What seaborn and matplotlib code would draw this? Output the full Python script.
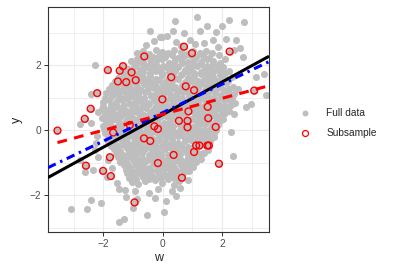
import numpy as np
import pandas as pd
import matplotlib.pyplot as plt
import seaborn as sns
from matplotlib.lines import Line2D

# full data cloud (top to bottom)
full_w = [
    0.43, 1.15, 2.25, 2.76,
    -0.42, -0.02, 0.36, 0.71, 1.26, 1.49, 1.80, 1.99, 2.14, 2.48,
    -0.55, -0.28, -0.09, 0.14, 0.45, 0.62, 0.92, 1.10, 1.40, 1.71, 1.88, 2.42, 2.61,
    -0.88, -0.66, -0.45, -0.24, -0.03, 0.19, 0.40, 0.61, 0.83, 1.04, 1.25, 1.47, 1.68, 1.90, 2.70,
    -1.08, -0.87, -0.65, -0.44, -0.22, -0.01, 0.21, 0.42, 0.64, 0.85, 1.06, 1.28, 1.49, 1.71, 1.92, 2.12,
    -2.30, -1.18, -0.97, -0.75, -0.54, -0.32, -0.11, 0.10, 0.32, 0.53, 0.75, 0.96, 1.17, 1.39, 1.60, 1.82, 2.03, 2.25,
    -1.52, -1.30, -1.09, -0.87, -0.66, -0.44, -0.23, -0.01, 0.20, 0.42, 0.63, 0.85, 1.06, 1.28, 1.49, 1.71, 1.92, 2.14, 2.35, 3.15, 3.42,
    -1.72, -1.50, -1.29, -1.07, -0.86, -0.64, -0.43, -0.21, 0.00, 0.22, 0.43, 0.65, 0.86, 1.08, 1.29, 1.51, 1.72, 1.94, 2.15, 2.37, 2.53,
    -2.41, -1.90, -1.68, -1.47, -1.25, -1.04, -0.82, -0.61, -0.39, -0.18, 0.04, 0.25, 0.47, 0.68, 0.90, 1.11, 1.33, 1.54, 1.76, 1.97, 2.19, 2.40, 3.49,
    -2.02, -1.80, -1.59, -1.37, -1.16, -0.94, -0.73, -0.51, -0.30, -0.08, 0.13, 0.35, 0.56, 0.78, 0.99, 1.21, 1.42, 1.64, 1.85, 2.07, 2.28, 2.45, 2.98,
    -2.19, -2.06, -1.85, -1.63, -1.42, -1.20, -0.99, -0.77, -0.56, -0.34, -0.13, 0.09, 0.30, 0.52, 0.73, 0.95, 1.16, 1.38, 1.59, 1.81, 2.02, 2.24, 2.81,
    -2.04, -1.82, -1.61, -1.39, -1.18, -0.96, -0.75, -0.53, -0.32, -0.10, 0.11, 0.33, 0.54, 0.76, 0.97, 1.19, 1.40, 1.62, 1.83, 2.05, 2.42,
    -2.80, -2.41, -2.00, -1.79, -1.57, -1.36, -1.14, -0.93, -0.71, -0.50, -0.28, -0.07, 0.15, 0.36, 0.58, 0.79, 1.01, 1.22, 1.44, 1.65, 1.87,
    -1.93, -1.72, -1.50, -1.29, -1.07, -0.86, -0.64, -0.43, -0.21, 0.00, 0.22, 0.43, 0.65, 0.86, 1.08, 1.29, 1.51, 1.72, 2.31,
    -2.26, -1.84, -1.63, -1.41, -1.20, -0.98, -0.77, -0.55, -0.34, -0.12, 0.09, 0.31, 0.52, 0.74, 0.95, 1.17, 1.38, 1.60,
    -2.30, -1.65, -1.44, -1.22, -1.01, -0.79, -0.58, -0.36, -0.15, 0.07, 0.28, 0.50, 0.71, 0.93, 1.14, 1.35, 1.52,
    -2.19, -1.85, -1.52, -1.30, -1.09, -0.87, -0.66, -0.44, -0.23, -0.01, 0.20, 0.42, 0.63, 0.85, 1.06, 1.28, 2.36,
    -2.35, -1.70, -1.32, -1.10, -0.89, -0.67, -0.46, -0.24, -0.03, 0.19, 0.40, 0.62, 0.83, 1.02,
    -2.62, -1.88, -1.22, -1.00, -0.79, -0.57, -0.36, -0.14, 0.07, 0.29, 0.50, 0.72,
    -1.55, -1.05, -0.82, -0.60, -0.25, -0.02, 0.37, 0.55, 0.85,
    -1.47, -1.26, -0.95, -0.47, -0.15, 0.30, 0.58,
    -2.41, -2.07, -1.25, -0.85, -0.25, 0.12, 0.45,
    -3.09, -2.55, -0.53, 0.03, -1.00,
    -1.49, -1.32,
    -2.23, -2.79,
]
full_y = [
    3.36, 3.48, 3.38, 3.33,
    3.06, 2.87, 3.04, 2.99, 3.04, 3.21, 3.02, 3.20, 2.82, 2.78,
    2.62, 2.74, 2.86, 2.90, 2.70, 2.58, 2.78, 2.66, 2.68, 2.78, 2.57, 2.46, 2.52,
    2.38, 2.44, 2.35, 2.47, 2.40, 2.36, 2.48, 2.41, 2.34, 2.45, 2.38, 2.43, 2.36, 2.30, 2.25,
    2.12, 2.18, 2.10, 2.20, 2.13, 2.19, 2.08, 2.16, 2.21, 2.11, 2.17, 2.09, 2.19, 2.14, 2.06, 2.18,
    2.00, 1.88, 1.94, 1.86, 1.95, 1.89, 1.84, 1.93, 1.87, 1.96, 1.85, 1.91, 1.97, 1.86, 1.92, 1.88, 1.95, 1.83,
    1.62, 1.68, 1.60, 1.70, 1.63, 1.67, 1.59, 1.71, 1.64, 1.61, 1.69, 1.62, 1.66, 1.72, 1.60, 1.65, 1.70, 1.58, 1.64, 1.64, 1.74,
    1.38, 1.42, 1.35, 1.44, 1.37, 1.41, 1.46, 1.36, 1.40, 1.43, 1.34, 1.39, 1.45, 1.38, 1.42, 1.35, 1.41, 1.37, 1.44, 1.33, 1.28,
    1.11, 1.13, 1.18, 1.10, 1.16, 1.20, 1.12, 1.17, 1.09, 1.15, 1.19, 1.11, 1.14, 1.18, 1.10, 1.16, 1.12, 1.19, 1.13, 1.09, 1.17, 1.12, 1.08,
    0.88, 0.93, 0.86, 0.92, 0.95, 0.87, 0.91, 0.85, 0.94, 0.89, 0.92, 0.86, 0.95, 0.88, 0.91, 0.87, 0.93, 0.89, 0.86, 0.94, 0.90, 0.84, 0.82,
    0.56, 0.66, 0.61, 0.68, 0.63, 0.60, 0.67, 0.62, 0.69, 0.61, 0.65, 0.59, 0.66, 0.63, 0.68, 0.60, 0.64, 0.67, 0.61, 0.65, 0.62, 0.58, 0.72,
    0.38, 0.42, 0.36, 0.43, 0.39, 0.35, 0.41, 0.44, 0.37, 0.40, 0.43, 0.36, 0.42, 0.38, 0.34, 0.41, 0.37, 0.43, 0.39, 0.35, 0.51,
    0.19, 0.22, 0.13, 0.17, 0.11, 0.16, 0.19, 0.12, 0.15, 0.18, 0.10, 0.14, 0.17, 0.12, 0.16, 0.19, 0.11, 0.15, 0.18, 0.13, 0.16,
    -0.08, -0.12, -0.06, -0.11, -0.14, -0.07, -0.10, -0.13, -0.05, -0.09, -0.12, -0.08, -0.14, -0.06, -0.11, -0.09, -0.13, -0.07, -0.04,
    -0.40, -0.33, -0.37, -0.31, -0.36, -0.39, -0.32, -0.35, -0.38, -0.30, -0.36, -0.33, -0.39, -0.34, -0.31, -0.37, -0.35, -0.32,
    -0.62, -0.58, -0.63, -0.56, -0.61, -0.64, -0.57, -0.60, -0.65, -0.59, -0.55, -0.62, -0.58, -0.63, -0.57, -0.71, -0.60,
    -0.81, -0.92, -0.83, -0.88, -0.82, -0.86, -0.90, -0.84, -0.81, -0.89, -0.85, -0.83, -0.91, -0.86, -0.82, -0.88, -0.78,
    -1.22, -1.15, -1.08, -1.13, -1.06, -1.11, -1.15, -1.07, -1.12, -1.09, -1.14, -1.06, -1.10, -1.13,
    -1.30, -1.45, -1.33, -1.38, -1.31, -1.36, -1.40, -1.32, -1.37, -1.34, -1.39, -1.30,
    -1.62, -1.58, -1.65, -1.56, -1.48, -1.63, -1.68, -1.55, -1.52,
    -1.80, -1.84, -1.88, -1.94, -1.82, -1.86, -1.78,
    -2.14, -2.23, -2.05, -2.12, -2.09, -2.18, -2.02,
    -2.43, -2.43, -2.61, -2.53, -2.40,
    -2.81, -2.74,
    -0.19, -0.91,
]

# the dense middle of the cloud, read between the bands above
inner_w = [
    -0.75, -0.53, -0.33, -0.12, 0.09, 0.30, 0.51, 0.72, 0.93, 1.14, 1.36, 1.57,
    -0.86, -0.64, -0.43, -0.21, 0.00, 0.21, 0.43, 0.64, 0.86, 1.07, 1.28, 1.50, 1.71, 1.93,
    -1.30, -1.08, -0.87, -0.65, -0.44, -0.22, -0.01, 0.21, 0.42, 0.64, 0.85, 1.07, 1.28, 1.50, 1.71, 1.93, 2.10,
    -1.62, -1.40, -1.19, -0.97, -0.76, -0.54, -0.33, -0.11, 0.10, 0.32, 0.53, 0.75, 0.96, 1.18, 1.39, 1.61, 1.82, 2.04, 2.22,
    -1.80, -1.58, -1.37, -1.15, -0.94, -0.72, -0.51, -0.29, -0.08, 0.14, 0.35, 0.57, 0.78, 1.00, 1.21, 1.43, 1.64, 1.86, 2.07, 2.25,
    -1.95, -1.70, -1.48, -1.27, -1.05, -0.84, -0.62, -0.41, -0.19, 0.02, 0.24, 0.45, 0.67, 0.88, 1.10, 1.31, 1.53, 1.74, 1.96, 2.17, 2.33,
    -2.00, -1.75, -1.53, -1.32, -1.10, -0.89, -0.67, -0.46, -0.24, -0.03, 0.19, 0.40, 0.62, 0.83, 1.05, 1.26, 1.48, 1.69, 1.91, 2.12, 2.30,
    -1.95, -1.72, -1.50, -1.29, -1.07, -0.86, -0.64, -0.43, -0.21, 0.00, 0.22, 0.43, 0.65, 0.86, 1.08, 1.29, 1.51, 1.72, 1.94, 2.12,
    -1.92, -1.70, -1.47, -1.25, -1.04, -0.82, -0.61, -0.39, -0.18, 0.04, 0.25, 0.47, 0.68, 0.90, 1.11, 1.33, 1.54, 1.76, 1.97,
    -1.97, -1.83, -1.61, -1.40, -1.18, -0.97, -0.75, -0.54, -0.32, -0.11, 0.11, 0.32, 0.54, 0.75, 0.97, 1.18, 1.40, 1.61, 1.80,
    -1.85, -1.62, -1.40, -1.19, -0.97, -0.76, -0.54, -0.33, -0.11, 0.10, 0.32, 0.53, 0.75, 0.96, 1.18, 1.39, 1.60, 1.75,
    -1.75, -1.52, -1.31, -1.09, -0.88, -0.66, -0.45, -0.23, -0.02, 0.20, 0.41, 0.63, 0.84, 1.06, 1.27, 1.45,
    -1.58, -1.33, -1.12, -0.90, -0.69, -0.47, -0.26, -0.04, 0.17, 0.39, 0.60, 0.82, 1.03, 1.25, 1.40,
    -1.45, -1.20, -0.98, -0.77, -0.55, -0.34, -0.12, 0.09, 0.31, 0.52, 0.74, 0.95, 1.12,
    -1.25, -1.04, -0.82, -0.61, -0.39, -0.18, 0.04, 0.25, 0.47, 0.68, 0.88,
    -1.12, -0.90, -0.68, -0.47, -0.25, -0.04, 0.18, 0.40, 0.65,
]
inner_y = [
    2.27, 2.31, 2.24, 2.29, 2.26, 2.32, 2.23, 2.28, 2.30, 2.25, 2.29, 2.22,
    2.03, 1.99, 2.05, 2.01, 1.98, 2.04, 2.00, 2.06, 1.97, 2.02, 2.05, 1.99, 2.03, 2.00,
    1.76, 1.80, 1.74, 1.79, 1.77, 1.81, 1.75, 1.78, 1.82, 1.74, 1.79, 1.76, 1.80, 1.73, 1.78, 1.81, 1.75,
    1.50, 1.54, 1.49, 1.53, 1.56, 1.51, 1.48, 1.55, 1.52, 1.50, 1.57, 1.49, 1.53, 1.51, 1.55, 1.48, 1.52, 1.54, 1.50,
    1.26, 1.29, 1.24, 1.30, 1.27, 1.23, 1.28, 1.31, 1.25, 1.27, 1.30, 1.24, 1.28, 1.26, 1.31, 1.23, 1.27, 1.29, 1.25, 1.28,
    1.00, 1.04, 1.01, 0.98, 1.05, 1.02, 0.99, 1.04, 1.01, 1.06, 0.98, 1.03, 1.00, 1.05, 0.99, 1.02, 1.04, 0.98, 1.03, 1.01, 0.99,
    0.76, 0.79, 0.74, 0.78, 0.81, 0.75, 0.77, 0.80, 0.73, 0.78, 0.76, 0.81, 0.74, 0.79, 0.77, 0.75, 0.80, 0.76, 0.78, 0.74, 0.77,
    0.51, 0.54, 0.49, 0.53, 0.50, 0.55, 0.48, 0.52, 0.54, 0.50, 0.47, 0.53, 0.51, 0.55, 0.49, 0.52, 0.50, 0.54, 0.48, 0.52,
    0.27, 0.30, 0.25, 0.28, 0.24, 0.29, 0.26, 0.31, 0.27, 0.23, 0.28, 0.30, 0.25, 0.27, 0.29, 0.24, 0.28, 0.26, 0.30,
    0.03, -0.01, 0.04, 0.00, 0.05, 0.01, -0.02, 0.03, 0.06, 0.00, 0.02, 0.05, -0.01, 0.03, 0.04, 0.00, 0.02, 0.05, 0.01,
    -0.22, -0.20, -0.25, -0.21, -0.24, -0.19, -0.23, -0.26, -0.20, -0.22, -0.25, -0.19, -0.23, -0.21, -0.26, -0.20, -0.24, -0.22,
    -0.47, -0.50, -0.45, -0.49, -0.46, -0.51, -0.44, -0.48, -0.50, -0.46, -0.49, -0.45, -0.51, -0.47, -0.44, -0.49,
    -0.72, -0.75, -0.70, -0.74, -0.71, -0.76, -0.69, -0.73, -0.75, -0.70, -0.74, -0.71, -0.76, -0.72, -0.70,
    -0.97, -1.00, -0.95, -0.99, -0.96, -1.01, -0.94, -0.98, -1.00, -0.95, -0.99, -0.96, -0.98,
    -1.22, -1.25, -1.20, -1.24, -1.21, -1.26, -1.19, -1.23, -1.25, -1.20, -1.24,
    -1.47, -1.50, -1.45, -1.49, -1.52, -1.46, -1.50, -1.48, -1.45,
]

# subsample (red open circles)
sub_w = [-3.55, -2.59, -2.63, -2.43, -2.21, -2.01, -1.85, -1.78, -1.75, -1.67,
         -1.51, -1.45, -1.34, -1.23, -1.11, -1.05, -0.91, -0.95, -0.62, -0.63,
         -0.42, -0.28, -0.16, -0.16, -0.01, 0.29, 0.37, 0.55, 0.65, 0.72,
         0.78, 0.84, 0.87, 0.84, 0.99, 1.06, 1.06, 1.13, 1.24, 1.52,
         1.54, 1.51, 1.56, 1.79, 1.90, 2.26, 3.09]
sub_y = [-0.01, -1.09, 0.35, 0.66, 1.14, -1.25, 1.85, -0.83, -1.41, -0.07,
         1.50, 1.83, 1.97, 1.48, 0.16, 1.78, 1.54, -2.22, 2.27, -0.25,
         -0.33, 0.12, 0.04, -1.01, 0.95, 1.63, -0.76, 0.29, -1.46, 2.57,
         1.35, 0.29, 0.58, 0.09, 2.37, 1.23, -0.67, -0.47, -0.47, 0.72,
         0.37, -0.47, -0.47, 0.10, -1.03, 2.42, 1.22]

# fitted lines: full data (black), weighted (blue), subsample (red)
fit_intercept = [0.48, 0.54, 0.49]
fit_slope = [0.50, 0.437, 0.245]
fit_start = [-3.87, -3.87, -3.55]
fit_end = [3.59, 3.59, 3.59]
fit_color = ["black", "#0000FF", "#FF0000"]
fit_style = ["-", (0, (2.8, 1.6, 0.8, 1.6)), (0, (3.2, 2.4))]

legend_labels = ["Full data", "Subsample"]

sns.set_style("white")
plt.rcParams["font.family"] = ["Liberation Sans", "DejaVu Sans"]

full = pd.DataFrame({"w": full_w + inner_w + sub_w, "y": full_y + inner_y + sub_y})
sub = pd.DataFrame({"w": sub_w, "y": sub_y})

fig = plt.figure(figsize=(4.09, 2.73), dpi=100)
ax = fig.add_axes([48 / 409, 41 / 273, 221 / 409, 225 / 273])

sns.scatterplot(data=full, x="w", y="y", color="#BEBEBE", s=26, linewidth=0, ax=ax, legend=False, zorder=2)
sns.scatterplot(data=sub, x="w", y="y", facecolor="none", edgecolor="#FF0000", s=24, linewidth=1.0,
                ax=ax, legend=False, zorder=3)

for b0, b1, x0, x1, c, ls in zip(fit_intercept, fit_slope, fit_start, fit_end, fit_color, fit_style):
    xs = np.array([x0, x1])
    ax.plot(xs, b0 + b1 * xs, color=c, linestyle=ls, linewidth=2.2, zorder=4, solid_capstyle="butt")

ax.set_xlim(-3.87, 3.59)
ax.set_ylim(-3.13, 3.79)
ax.set_xticks([-2, 0, 2])
ax.set_yticks([-2, 0, 2])
ax.set_xticks([-3, -1, 1, 3], minor=True)
ax.set_yticks([-3, -1, 1, 3], minor=True)
ax.grid(which="major", color="#EBEBEB", linewidth=0.8)
ax.grid(which="minor", color="#EBEBEB", linewidth=0.55)
ax.set_axisbelow(True)
ax.tick_params(which="major", length=2.9, width=0.7, color="#333333", labelsize=7.3,
               labelcolor="#4D4D4D", pad=1.8, bottom=True, left=True)
ax.tick_params(which="minor", length=0)
for sp in ax.spines.values():
    sp.set_color("#333333")
    sp.set_linewidth(0.8)

ax.set_xlabel("w", fontsize=9, labelpad=2.5)
ax.set_ylabel("y", fontsize=9, labelpad=5)

handles = [
    Line2D([], [], marker="o", linestyle="", color="#BEBEBE", markersize=4.3, markeredgewidth=0),
    Line2D([], [], marker="o", linestyle="", markerfacecolor="white", markeredgecolor="#FF0000",
           markersize=4.3, markeredgewidth=0.9),
]
fig.legend(handles, legend_labels, loc="center left", bbox_to_anchor=(300 / 409, 1 - 123.4 / 273),
           frameon=False, handlelength=1.0, handletextpad=1.58, labelspacing=0.97,
           borderpad=0, borderaxespad=0, fontsize=7.3)

fig.savefig("out.png", dpi=100)
